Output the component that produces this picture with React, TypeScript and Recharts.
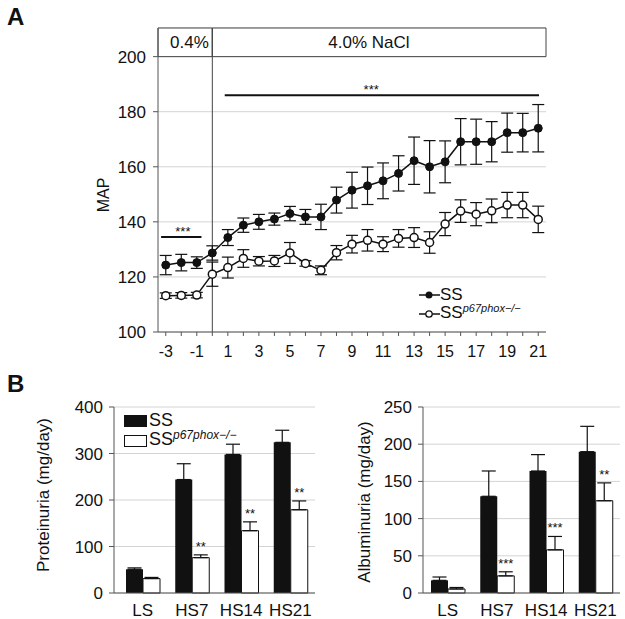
import React from "react";
import {
  LineChart,
  Line,
  XAxis,
  YAxis,
  CartesianGrid,
  ErrorBar,
  ReferenceLine,
  ReferenceArea,
  Legend,
  BarChart,
  Bar,
  LabelList,
} from "recharts";

const FONT = '"Liberation Sans", Arial, sans-serif';
const INK = "#111";

// Panel A: MAP over days on diet
const days = [-3, -2, -1, 0, 1, 2, 3, 4, 5, 6, 7, 8, 9, 10, 11, 12, 13, 14, 15, 16, 17, 18, 19, 20, 21];
const mapSS = [124.3, 125.2, 125.2, 128.7, 134.3, 138.8, 140, 141, 143, 141.8, 141.8, 147.9, 151.5, 153.1, 154.9, 157.6, 162.2, 160, 161.8, 169.1, 169.1, 169.1, 172.4, 172.4, 174];
const semSS = [3.5, 3.0, 2.1, 2.6, 2.9, 2.6, 2.7, 2.2, 2.6, 2.7, 4.6, 4.7, 6.5, 6.8, 6.5, 6.4, 8.6, 9.5, 7.6, 8.4, 8.2, 7.3, 7.1, 7.0, 8.6];
const mapKO = [113.2, 113.3, 113.4, 121, 123.4, 126.7, 125.7, 125.8, 128.7, 124.9, 122.4, 128.8, 131.9, 133.3, 131.9, 134, 134.3, 132.5, 139.2, 143.9, 142.8, 144, 146.1, 146.1, 140.9];
const semKO = [1, 1, 1, 4.4, 3.8, 3.2, 1.7, 2, 3.8, 1, 1.6, 2.6, 3.2, 3.9, 2.7, 3.2, 3.6, 3.9, 4.2, 4.1, 4.2, 4.3, 4.6, 4.6, 4.8];
const mapTicks = [100, 120, 140, 160, 180, 200];

// Panel B: urine protein / albumin
const groups = ["LS", "HS7", "HS14", "HS21"];
const protSS = [51, 244, 298, 324];
const protSSErr = [3, 34, 22, 26];
const protKO = [31, 76, 134, 179];
const protKOErr = [2.5, 6, 19, 19];
const protStars = ["", "**", "**", "**"];
const protTicks = [0, 100, 200, 300, 400];

const albSS = [17, 130, 164, 190];
const albSSErr = [4.5, 34, 22, 34];
const albKO = [5.4, 23, 58, 124];
const albKOErr = [2, 5.5, 18, 24];
const albStars = ["", "***", "***", "**"];
const albTicks = [0, 50, 100, 150, 200, 250];

const mapData = days.map((d, i) => ({
  day: d,
  ss: mapSS[i],
  ssErr: semSS[i],
  ko: mapKO[i],
  koErr: semKO[i],
}));

const protData = groups.map((g, i) => ({
  g,
  ss: protSS[i],
  ssErr: [0, protSSErr[i]],
  ko: protKO[i],
  koErr: [0, protKOErr[i]],
  stars: protStars[i],
}));

const albData = groups.map((g, i) => ({
  g,
  ss: albSS[i],
  ssErr: [0, albSSErr[i]],
  ko: albKO[i],
  koErr: [0, albKOErr[i]],
  stars: albStars[i],
}));

const KO_SUP = "p67phox\u2212/\u2212";

// rotated axis title, placed by hand
const AxisTitle = ({ px, py, text, size }: any) => (
  <text
    x={px}
    y={py}
    transform={`rotate(-90 ${px} ${py})`}
    textAnchor="middle"
    dominantBaseline="central"
    fontSize={size}
    fill={INK}
    fontFamily={FONT}
  >
    {text}
  </text>
);

// stars over a significance line, frac = where along the line
const lineStars = (frac: number, up: number) => (props: any) => {
  const vb = props.viewBox || {};
  const x = vb.x + vb.width * frac;
  return (
    <text x={x} y={vb.y - up + 7} textAnchor="middle" fontSize={13} fill={INK} fontFamily={FONT}>
      ***
    </text>
  );
};

// stars above the error bar of the KO bars
const barStars = (vals: number[], errs: number[], stars: string[]) => (props: any) => {
  const vb = props.viewBox || {};
  const x = props.x ?? vb.x;
  const y = props.y ?? vb.y;
  const w = props.width ?? vb.width;
  const h = props.height ?? vb.height;
  const i = props.index;
  const s = stars[i];
  if (!s) return null;
  const top = y - (errs[i] * h) / vals[i];
  return (
    <text x={x + w / 2} y={top - 4} textAnchor="middle" fontSize={13} fill={INK} fontFamily={FONT}>
      {s}
    </text>
  );
};

const LegendA = () => (
  <div style={{ fontFamily: FONT, fontSize: 17, color: INK, lineHeight: "18px" }}>
    <div style={{ display: "flex", alignItems: "center" }}>
      <svg width={21} height={10}>
        <line x1={0} y1={5} x2={21} y2={5} stroke={INK} strokeWidth={1.5} />
        <circle cx={10} cy={5} r={3.5} fill={INK} />
      </svg>
      <span>SS</span>
    </div>
    <div style={{ display: "flex", alignItems: "center" }}>
      <svg width={21} height={10}>
        <line x1={0} y1={5} x2={21} y2={5} stroke={INK} strokeWidth={1.5} />
        <circle cx={10} cy={5} r={3.2} fill="#fff" stroke={INK} strokeWidth={1.3} />
      </svg>
      <span>
        SS
        <span style={{ fontSize: 11, fontStyle: "italic", position: "relative", top: -6 }}>{KO_SUP}</span>
      </span>
    </div>
  </div>
);

const LegendB = () => (
  <div style={{ fontFamily: FONT, fontSize: 18, color: INK, lineHeight: "19px" }}>
    <div style={{ display: "flex", alignItems: "center" }}>
      <div style={{ width: 23, height: 12, background: INK, marginRight: 2 }} />
      <span>SS</span>
    </div>
    <div style={{ display: "flex", alignItems: "center" }}>
      <div style={{ width: 21, height: 10, background: "#fff", border: `1px solid ${INK}`, marginRight: 2 }} />
      <span>
        SS
        <span style={{ fontSize: 12, fontStyle: "italic", position: "relative", top: -6 }}>{KO_SUP}</span>
      </span>
    </div>
  </div>
);

function MapChart() {
  return (
    <LineChart width={625} height={370} data={mapData} margin={{ top: 28, right: 79, left: 108, bottom: 8 }}>
      <CartesianGrid vertical={false} stroke="#d4d4d4" />
      <XAxis
        type="number"
        dataKey="day"
        domain={[-3.5, 21.5]}
        ticks={days}
        interval={0}
        tickFormatter={(v: number) => (v % 2 ? String(v) : "")}
        tickSize={4}
        tickMargin={10}
        height={30}
        stroke="#555"
        tick={{ fill: INK, fontSize: 16, fontFamily: FONT }}
      />
      <YAxis
        domain={[100, 210.4]}
        ticks={mapTicks}
        allowDataOverflow
        width={50}
        tickSize={5}
        tickMargin={7}
        stroke="#555"
        tick={{ fill: INK, fontSize: 17, fontFamily: FONT }}
        label={<AxisTitle px={103} py={195} text="MAP" size={16} />}
      />
      <ReferenceArea
        x1={-3.5}
        x2={0}
        y1={200}
        y2={210.4}
        fill="#fff"
        fillOpacity={1}
        stroke="#444"
        label={{ value: "0.4%", position: "insideLeft", offset: 12, fontSize: 17, fill: INK, fontFamily: FONT }}
      />
      <ReferenceArea
        x1={0}
        x2={21.5}
        y1={200}
        y2={210.4}
        fill="#fff"
        fillOpacity={1}
        stroke="#444"
        label={{ value: "4.0% NaCl", position: "insideLeft", offset: 116, fontSize: 17, fill: INK, fontFamily: FONT }}
      />
      <ReferenceLine x={0} stroke="#444" />
      <ReferenceLine
        segment={[
          { x: -3.3, y: 134.5 },
          { x: -0.7, y: 134.5 },
        ]}
        stroke={INK}
        strokeWidth={2}
        label={{ content: lineStars(0.54, 8) }}
      />
      <ReferenceLine
        segment={[
          { x: 0.8, y: 186 },
          { x: 21.05, y: 186 },
        ]}
        stroke={INK}
        strokeWidth={2}
        label={{ content: lineStars(0.466, 8) }}
      />
      <Line
        dataKey="ss"
        stroke={INK}
        strokeWidth={1.5}
        dot={{ r: 4, fill: INK, stroke: INK, strokeWidth: 1 }}
        activeDot={false}
        isAnimationActive={false}
      >
        <ErrorBar dataKey="ssErr" direction="y" width={6} stroke={INK} strokeWidth={1.2} />
      </Line>
      <Line
        dataKey="ko"
        stroke={INK}
        strokeWidth={1.5}
        dot={{ r: 4, fill: "#fff", stroke: INK, strokeWidth: 1.5 }}
        activeDot={false}
        isAnimationActive={false}
      >
        <ErrorBar dataKey="koErr" direction="y" width={6} stroke={INK} strokeWidth={1.2} />
      </Line>
      <Legend
        layout="vertical"
        align="center"
        verticalAlign="middle"
        content={<LegendA />}
        wrapperStyle={{ left: 419, top: 286, width: 140 }}
      />
    </LineChart>
  );
}

function UrineChart({ data, ticks, max, title, titleX, titleY, left, vals, errs, stars, legend, padLeft }: any) {
  return (
    <BarChart
      width={320}
      height={239}
      data={data}
      margin={{ top: 27, right: 5, left, bottom: 1 }}
      barGap={0}
      barSize={17}
    >
      <CartesianGrid vertical={false} stroke="#d4d4d4" />
      <XAxis
        dataKey="g"
        tickLine={false}
        tickSize={0}
        tickMargin={11}
        height={25}
        padding={{ left: padLeft, right: 0 }}
        stroke="#555"
        tick={{ fill: INK, fontSize: 17, fontFamily: FONT }}
      />
      <YAxis
        domain={[0, max]}
        ticks={ticks}
        width={60}
        tickSize={5}
        tickMargin={6}
        stroke="#555"
        tick={{ fill: INK, fontSize: 17, fontFamily: FONT }}
        label={<AxisTitle px={titleX} py={titleY} text={title} size={17} />}
      />
      <Bar dataKey="ss" fill={INK} isAnimationActive={false}>
        <ErrorBar dataKey="ssErr" width={7} stroke={INK} strokeWidth={1.2} />
      </Bar>
      <Bar dataKey="ko" fill="#fff" stroke={INK} strokeWidth={1} isAnimationActive={false}>
        <ErrorBar dataKey="koErr" width={7} stroke={INK} strokeWidth={1.2} />
        <LabelList dataKey="stars" content={barStars(vals, errs, stars)} />
      </Bar>
      {legend ? (
        <Legend
          layout="vertical"
          align="center"
          verticalAlign="middle"
          content={<LegendB />}
          wrapperStyle={{ left: 124, top: 31, width: 190 }}
        />
      ) : null}
    </BarChart>
  );
}

export default function App() {
  return (
    <div style={{ position: "absolute", left: 0, top: 0, width: 625, height: 619, background: "#fff", fontFamily: FONT }}>
      <div style={{ position: "absolute", left: 7, top: 3, fontSize: 24, fontWeight: "bold", color: INK }}>A</div>
      <div style={{ position: "absolute", left: 7, top: 370, fontSize: 24, fontWeight: "bold", color: INK }}>B</div>
      <div style={{ position: "absolute", left: 0, top: 0 }}>
        <MapChart />
      </div>
      <div style={{ position: "absolute", left: 0, top: 380 }}>
        <UrineChart
          data={protData}
          ticks={protTicks}
          max={400}
          title="Proteinuria (mg/day)"
          titleX={43}
          titleY={115}
          left={54}
          vals={protKO}
          errs={protKOErr}
          stars={protStars}
          legend
          padLeft={4}
        />
      </div>
      <div style={{ position: "absolute", left: 305, top: 380 }}>
        <UrineChart
          data={albData}
          ticks={albTicks}
          max={250}
          title="Albuminuria (mg/day)"
          titleX={59}
          titleY={122}
          left={58}
          vals={albKO}
          errs={albKOErr}
          stars={albStars}
          padLeft={0}
        />
      </div>
    </div>
  );
}
